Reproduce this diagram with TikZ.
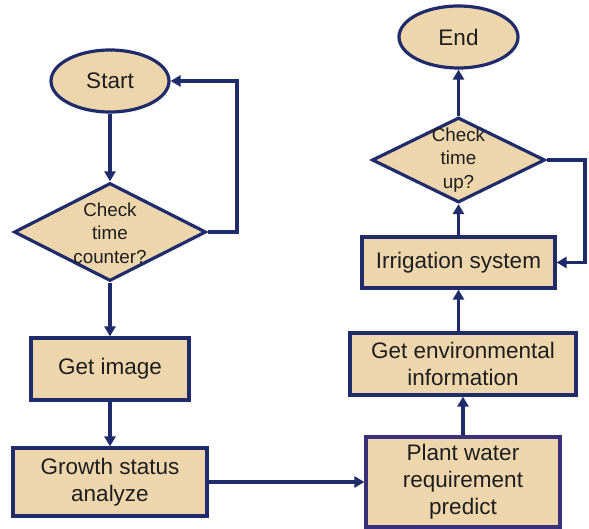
\documentclass[tikz,border=0pt]{standalone}
\usepackage{fontspec}
\setmainfont{Liberation Sans}
\usetikzlibrary{shapes.geometric,arrows.meta}
\definecolor{navy}{HTML}{1F2B6A}
\definecolor{plum}{HTML}{38307A}
\definecolor{tan}{HTML}{EDD6AC}
\definecolor{ink}{HTML}{1E1E1E}
\begin{document}
\begin{tikzpicture}[x=1pt,y=-1pt,
  shapebase/.style={draw=navy, fill=tan, line width=3.2pt, inner sep=0pt,
    text=ink, font=\fontsize{22.5}{27}\selectfont, align=center},
  terminal/.style={shapebase, ellipse},
  procbox/.style={shapebase, rectangle},
  decision/.style={draw=navy, fill=tan, line width=3.2pt, diamond, inner sep=0pt},
  decisiontext/.style={text=ink, font=\fontsize{18.8}{23.5}\selectfont,
    align=center, inner sep=0pt},
  flow/.style={draw=navy, line width=3.4pt, -{Triangle[length=10pt,width=11pt]}},
]
\useasboundingbox (0,0) rectangle (589,529);

% left column
\node[terminal, minimum width=118pt, minimum height=62pt] (start) at (110,81) {Start};
\node[decision, minimum width=192pt, minimum height=98pt] (d1) at (110,232) {};
\node[decisiontext] (d1text) at (110,233) {Check\\time\\counter?};
\node[procbox, minimum width=158pt, minimum height=62pt] (getimg) at (110,369) {Get image};
\node[procbox, minimum width=194pt, minimum height=68pt] (growth) at (110,482) {Growth status\\analyze};

% right column
\node[procbox, draw=plum, minimum width=194pt, minimum height=90pt] (plant) at (463,482) {Plant water\\requirement\\predict};
\node[procbox, minimum width=226pt, minimum height=62pt] (env) at (463,364) {Get environmental\\information};
\node[procbox, minimum width=193pt, minimum height=51pt] (irr) at (458.5,262.5) {Irrigation system};
\node[decision, minimum width=173pt, minimum height=85pt] (d2) at (458.5,160) {};
\node[decisiontext] (d2text) at (458.5,160) {Check\\time\\up?};
\node[terminal, minimum width=119pt, minimum height=62pt] (end) at (458.5,37) {End};

\coordinate (loopL) at (237,232);
\coordinate (loopR) at (585,160);

% connectors
\draw[flow] (start) -- (d1);
\draw[flow] (d1.east) -- (loopL) |- (start.east);
\draw[flow] (d1) -- (getimg);
\draw[flow] (getimg) -- (growth);
\draw[flow] (growth.east) -- (growth.east -| plant.west);
\draw[flow] (plant.north) -- (plant.north |- env.south);
\draw[flow] (irr.south |- env.north) -- (irr.south);
\draw[flow] (irr) -- (d2);
\draw[flow] (d2) -- (end);
\draw[flow] (d2.east) -- (loopR) |- (irr.east);
\end{tikzpicture}
\end{document}
